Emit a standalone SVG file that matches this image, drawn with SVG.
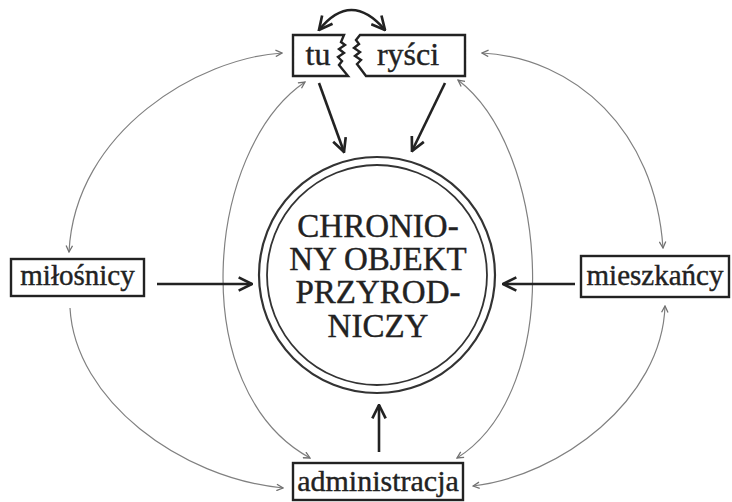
<svg xmlns="http://www.w3.org/2000/svg" width="732" height="502" viewBox="0 0 732 502">
<style>
.box{fill:#fff;stroke:#222;stroke-width:2.4}
.lbl{font-family:"Liberation Serif","Times New Roman",serif;fill:#222;stroke:#222;stroke-width:0.4;text-anchor:middle}
.thin{fill:none;stroke:#808080;stroke-width:1.2}
.thick{fill:none;stroke:#222;stroke-width:2.6}
</style>
<defs>
<marker id="ah" viewBox="0 0 10 10" refX="9" refY="5" markerWidth="8" markerHeight="8" markerUnits="userSpaceOnUse" orient="auto-start-reverse">
<path d="M1,1 L9,5 L1,9" fill="none" stroke="#707070" stroke-width="1.6"/>
</marker>
<marker id="ahk" viewBox="0 0 12 12" refX="11" refY="6" markerWidth="16" markerHeight="16" markerUnits="userSpaceOnUse" orient="auto-start-reverse">
<path d="M1,1 L11,6 L1,11" fill="none" stroke="#222" stroke-width="2"/>
</marker>
</defs>
<rect width="732" height="502" fill="#fff"/>
<g id="connectors">
<path class="thin" d="M282,53 C200,58 75,130 69,252" marker-start="url(#ah)" marker-end="url(#ah)"/>
<path class="thin" d="M305,82 C205,150 185,390 310,458" marker-start="url(#ah)" marker-end="url(#ah)"/>
<path class="thin" d="M70,308 C75,400 180,478 283,488" marker-end="url(#ah)"/>
<path class="thin" d="M482,53 C575,58 655,130 663,248" marker-start="url(#ah)" marker-end="url(#ah)"/>
<path class="thin" d="M458,80 C550,150 565,390 457,458" marker-start="url(#ah)" marker-end="url(#ah)"/>
<path class="thin" d="M665,306 C662,400 560,476 473,486" marker-start="url(#ah)" marker-end="url(#ah)"/>
<path class="thick" d="M319,30 Q351,-10 385,30" stroke-width="1.6" marker-start="url(#ahk)" marker-end="url(#ahk)"/>
<path class="thick" d="M319,83 L344,152" marker-end="url(#ahk)"/>
<path class="thick" d="M445,83 L412,151" marker-end="url(#ahk)"/>
<path class="thick" d="M157,284 H252" marker-end="url(#ahk)"/>
<path class="thick" d="M575,284 H503" marker-end="url(#ahk)"/>
<path class="thick" d="M379,452 V405" marker-end="url(#ahk)"/>
</g>
<g id="turysci">
<path class="box" d="M293,35 H344 L341,42 L345,45 L339,49 L344,53 L338,57 L342,61 L339,65 L348,76 H293 Z"/>
<path class="box" d="M360,35 H465 V76 H366 L357,64 L361,60 L355,56 L360,52 L354,48 L359,44 L356,40 Z"/>
<text class="lbl" x="318" y="65" font-size="32">tu</text>
<text class="lbl" x="408" y="65" font-size="32">ryści</text>
</g>
<g id="obiekt">
<circle cx="377" cy="275" r="118" fill="#fff" stroke="#333" stroke-width="2.2"/>
<circle cx="377" cy="275" r="110" fill="none" stroke="#333" stroke-width="1.8"/>
<text class="lbl" font-size="33" stroke-width="0.2"><tspan x="378" y="237">CHRONIO-</tspan><tspan x="378" y="270">NY OBJEKT</tspan><tspan x="378" y="303">PRZYROD-</tspan><tspan x="378" y="337">NICZY</tspan></text>
</g>
<g id="milosnicy">
<rect class="box" x="11" y="259" width="133" height="37"/>
<text class="lbl" x="77.5" y="285" font-size="29">miłośnicy</text>
</g>
<g id="mieszkancy">
<rect class="box" x="581" y="256" width="148" height="41"/>
<text class="lbl" x="655" y="285" font-size="29">mieszkańcy</text>
</g>
<g id="administracja">
<rect class="box" x="293" y="463" width="170" height="37"/>
<text class="lbl" x="378" y="491" font-size="30">administracja</text>
</g>
</svg>
